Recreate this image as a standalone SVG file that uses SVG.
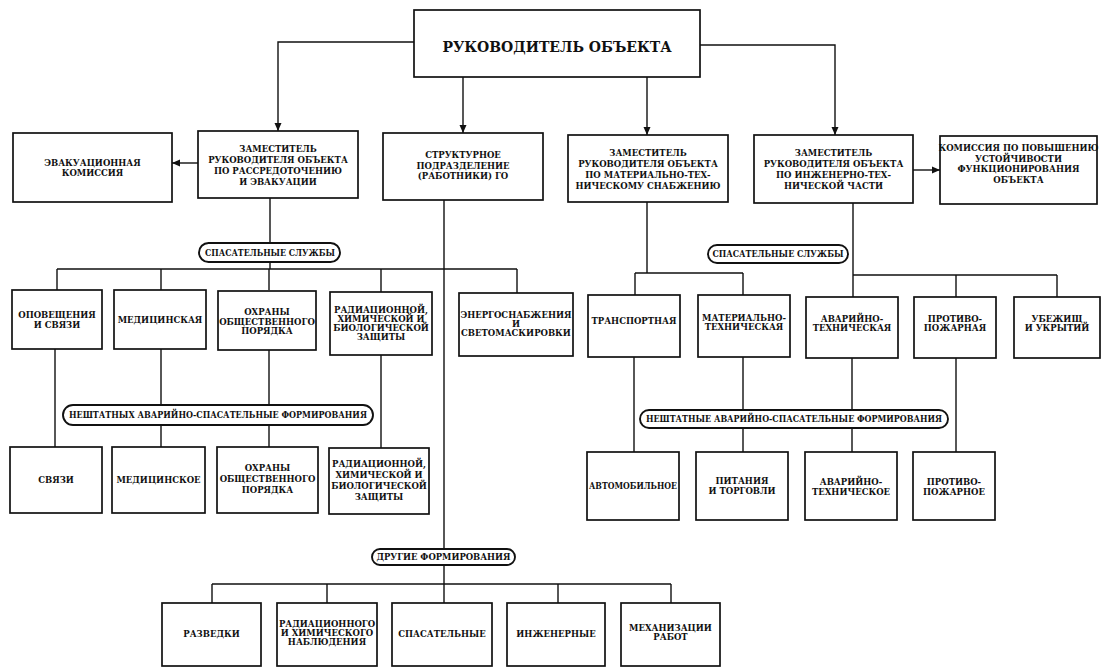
<svg xmlns="http://www.w3.org/2000/svg" width="1105" height="669" viewBox="0 0 1105 669">
<style>
.box{fill:#fff;stroke:#111;stroke-width:1.7}
.pill{fill:#fff;stroke:#111;stroke-width:1.9}
.ln{fill:none;stroke:#111;stroke-width:1.4}
text{font-family:"DejaVu Serif","Liberation Serif",serif;font-weight:bold;font-size:8.5px;fill:#111;text-anchor:middle}
.title{font-size:14px}
</style>
<defs>
<marker id="ah" markerWidth="8" markerHeight="8" refX="8" refY="4" orient="auto" markerUnits="userSpaceOnUse">
<path d="M0,0.5 L8,4 L0,7.5 Z" fill="#111"/>
</marker>
</defs>
<rect width="1105" height="669" fill="#fff"/>

<g id="connectors">
<path class="ln" d="M414,42 H278 V131" marker-end="url(#ah)"/>
<path class="ln" d="M463,77 V133" marker-end="url(#ah)"/>
<path class="ln" d="M647,77 V135" marker-end="url(#ah)"/>
<path class="ln" d="M700,45 H835 V135" marker-end="url(#ah)"/>
<path class="ln" d="M198,163 H172" marker-end="url(#ah)"/>
<path class="ln" d="M913,170 H940" marker-end="url(#ah)"/>
<path class="ln" d="M270,198 V243 M270,262 V269 M57,269 H517 M57,269 V290 M161,269 V290 M269,269 V290 M381,269 V292 M517,269 V293"/>
<path class="ln" d="M55,349 V447 M161,349 V405 M269,350 V405 M381,355 V448 M161,425 V447 M269,425 V447"/>
<path class="ln" d="M444,200 V549 M444,565 V603 M212,584 H671 M212,584 V603 M327,584 V603 M558,584 V603 M671,584 V603"/>
<path class="ln" d="M647,202 V273 M635,273 H743 M635,273 V295 M743,273 V295"/>
<path class="ln" d="M853,203 V275 H1057 M853,275 V297 M956,275 V297 M1057,275 V297"/>
<path class="ln" d="M634,357 V452 M743,357 V410 M852,358 V410 M956,358 V452 M743,428 V452 M852,428 V452"/>
</g>

<g id="head">
<rect class="box" x="414" y="10" width="286" height="67"/>
<text class="title" x="557" y="52">РУКОВОДИТЕЛЬ ОБЪЕКТА</text>
</g>

<g id="evac">
<rect class="box" x="13" y="133" width="159" height="69"/>
<text x="92.5" y="165.5">ЭВАКУАЦИОННАЯ</text>
<text x="92.5" y="176">КОМИССИЯ</text>
</g>
<g id="dep1">
<rect class="box" x="198" y="131" width="160" height="67"/>
<text x="278" y="151.5">ЗАМЕСТИТЕЛЬ</text>
<text x="278" y="162.5">РУКОВОДИТЕЛЯ ОБЪЕКТА</text>
<text x="278" y="173.5">ПО РАССРЕДОТОЧЕНИЮ</text>
<text x="278" y="184.5">И ЭВАКУАЦИИ</text>
</g>
<g id="struct">
<rect class="box" x="383" y="133" width="160" height="67"/>
<text x="463" y="158">СТРУКТУРНОЕ</text>
<text x="463" y="168.5">ПОДРАЗДЕЛЕНИЕ</text>
<text x="463" y="179">(РАБОТНИКИ) ГО</text>
</g>
<g id="dep2">
<rect class="box" x="568" y="135" width="160" height="67"/>
<text x="648" y="156">ЗАМЕСТИТЕЛЬ</text>
<text x="648" y="167">РУКОВОДИТЕЛЯ ОБЪЕКТА</text>
<text x="648" y="178">ПО МАТЕРИАЛЬНО-ТЕХ-</text>
<text x="648" y="189">НИЧЕСКОМУ СНАБЖЕНИЮ</text>
</g>
<g id="dep3">
<rect class="box" x="754" y="135" width="159" height="68"/>
<text x="833.5" y="156">ЗАМЕСТИТЕЛЬ</text>
<text x="833.5" y="167">РУКОВОДИТЕЛЯ ОБЪЕКТА</text>
<text x="833.5" y="178">ПО ИНЖЕНЕРНО-ТЕХ-</text>
<text x="833.5" y="189">НИЧЕСКОЙ ЧАСТИ</text>
</g>
<g id="comm">
<rect class="box" x="940" y="136" width="157" height="68"/>
<text x="1018.5" y="151">КОМИССИЯ ПО ПОВЫШЕНИЮ</text>
<text x="1018.5" y="161.5">УСТОЙЧИВОСТИ</text>
<text x="1018.5" y="172">ФУНКЦИОНИРОВАНИЯ</text>
<text x="1018.5" y="182.5">ОБЪЕКТА</text>
</g>

<g id="pill-ss-left">
<rect class="pill" x="199" y="243" width="141" height="19" rx="9.5"/>
<text x="270" y="255.5" textLength="130" lengthAdjust="spacingAndGlyphs">СПАСАТЕЛЬНЫЕ СЛУЖБЫ</text>
</g>
<g id="opov">
<rect class="box" x="12" y="290" width="90" height="59"/>
<text x="57" y="318">ОПОВЕЩЕНИЯ</text>
<text x="57" y="328">И СВЯЗИ</text>
</g>
<g id="med">
<rect class="box" x="114" y="290" width="92" height="59"/>
<text x="160" y="323">МЕДИЦИНСКАЯ</text>
</g>
<g id="ohr">
<rect class="box" x="218" y="291" width="98" height="59"/>
<text x="267" y="315">ОХРАНЫ</text>
<text x="267" y="324.5">ОБЩЕСТВЕННОГО</text>
<text x="267" y="334">ПОРЯДКА</text>
</g>
<g id="rad">
<rect class="box" x="330" y="292" width="102" height="63"/>
<text x="381" y="313">РАДИАЦИОННОЙ,</text>
<text x="381" y="322">ХИМИЧЕСКОЙ И</text>
<text x="381" y="331">БИОЛОГИЧЕСКОЙ</text>
<text x="381" y="340">ЗАЩИТЫ</text>
</g>
<g id="energo">
<rect class="box" x="459" y="293" width="114" height="63"/>
<text x="516" y="318">ЭНЕРГОСНАБЖЕНИЯ</text>
<text x="516" y="327">И</text>
<text x="516" y="336">СВЕТОМАСКИРОВКИ</text>
</g>

<g id="pill-nf-left">
<rect class="pill" x="63" y="405" width="310" height="20" rx="10"/>
<text x="218" y="418" textLength="298" lengthAdjust="spacingAndGlyphs">НЕШТАТНЫХ АВАРИЙНО-СПАСАТЕЛЬНЫЕ ФОРМИРОВАНИЯ</text>
</g>
<g id="svyazi">
<rect class="box" x="10" y="447" width="92" height="66"/>
<text x="56" y="483">СВЯЗИ</text>
</g>
<g id="medf">
<rect class="box" x="112" y="447" width="93" height="66"/>
<text x="158.5" y="483">МЕДИЦИНСКОЕ</text>
</g>
<g id="ohrf">
<rect class="box" x="217" y="447" width="101" height="66"/>
<text x="267.5" y="471">ОХРАНЫ</text>
<text x="267.5" y="482">ОБЩЕСТВЕННОГО</text>
<text x="267.5" y="493">ПОРЯДКА</text>
</g>
<g id="radf">
<rect class="box" x="329" y="448" width="100" height="66"/>
<text x="379" y="467">РАДИАЦИОННОЙ,</text>
<text x="379" y="478">ХИМИЧЕСКОЙ И</text>
<text x="379" y="489">БИОЛОГИЧЕСКОЙ</text>
<text x="379" y="500">ЗАЩИТЫ</text>
</g>

<g id="pill-other">
<rect class="pill" x="372" y="549" width="143" height="16" rx="8"/>
<text x="443.5" y="560" textLength="134" lengthAdjust="spacingAndGlyphs">ДРУГИЕ ФОРМИРОВАНИЯ</text>
</g>
<g id="razv">
<rect class="box" x="162" y="603" width="99" height="63"/>
<text x="211.5" y="637">РАЗВЕДКИ</text>
</g>
<g id="radn">
<rect class="box" x="277" y="603" width="100" height="63"/>
<text x="327" y="627">РАДИАЦИОННОГО</text>
<text x="327" y="636">И ХИМИЧЕСКОГО</text>
<text x="327" y="645">НАБЛЮДЕНИЯ</text>
</g>
<g id="spas">
<rect class="box" x="392" y="603" width="100" height="63"/>
<text x="442" y="637">СПАСАТЕЛЬНЫЕ</text>
</g>
<g id="inzh">
<rect class="box" x="507" y="603" width="98" height="63"/>
<text x="556" y="637">ИНЖЕНЕРНЫЕ</text>
</g>
<g id="meh">
<rect class="box" x="621" y="603" width="99" height="63"/>
<text x="670.5" y="631">МЕХАНИЗАЦИИ</text>
<text x="670.5" y="640">РАБОТ</text>
</g>

<g id="pill-ss-right">
<rect class="pill" x="708" y="245" width="140" height="18" rx="9"/>
<text x="778" y="257" textLength="131" lengthAdjust="spacingAndGlyphs">СПАСАТЕЛЬНЫЕ СЛУЖБЫ</text>
</g>
<g id="transp">
<rect class="box" x="588" y="295" width="92" height="62"/>
<text x="634" y="324">ТРАНСПОРТНАЯ</text>
</g>
<g id="mattech">
<rect class="box" x="698" y="295" width="92" height="62"/>
<text x="744" y="320.5">МАТЕРИАЛЬНО-</text>
<text x="744" y="329.5">ТЕХНИЧЕСКАЯ</text>
</g>
<g id="avartech">
<rect class="box" x="806" y="297" width="92" height="61"/>
<text x="852" y="321.5">АВАРИЙНО-</text>
<text x="852" y="330.5">ТЕХНИЧЕСКАЯ</text>
</g>
<g id="protivo">
<rect class="box" x="914" y="297" width="82" height="61"/>
<text x="955" y="321.5">ПРОТИВО-</text>
<text x="955" y="330.5">ПОЖАРНАЯ</text>
</g>
<g id="ubezh">
<rect class="box" x="1014" y="297" width="86" height="61"/>
<text x="1057" y="321.5">УБЕЖИЩ</text>
<text x="1057" y="330.5">И УКРЫТИЙ</text>
</g>

<g id="pill-nf-right">
<rect class="pill" x="640" y="410" width="308" height="18" rx="9"/>
<text x="794" y="422" textLength="296" lengthAdjust="spacingAndGlyphs">НЕШТАТНЫЕ АВАРИЙНО-СПАСАТЕЛЬНЫЕ ФОРМИРОВАНИЯ</text>
</g>
<g id="avto">
<rect class="box" x="587" y="452" width="92" height="68"/>
<text x="633" y="489" textLength="88" lengthAdjust="spacingAndGlyphs">АВТОМОБИЛЬНОЕ</text>
</g>
<g id="pitan">
<rect class="box" x="696" y="452" width="92" height="68"/>
<text x="742" y="484">ПИТАНИЯ</text>
<text x="742" y="494">И ТОРГОВЛИ</text>
</g>
<g id="avartechf">
<rect class="box" x="805" y="452" width="92" height="68"/>
<text x="851" y="485">АВАРИЙНО-</text>
<text x="851" y="495">ТЕХНИЧЕСКОЕ</text>
</g>
<g id="protivof">
<rect class="box" x="913" y="452" width="82" height="68"/>
<text x="954" y="485">ПРОТИВО-</text>
<text x="954" y="495">ПОЖАРНОЕ</text>
</g>
</svg>
